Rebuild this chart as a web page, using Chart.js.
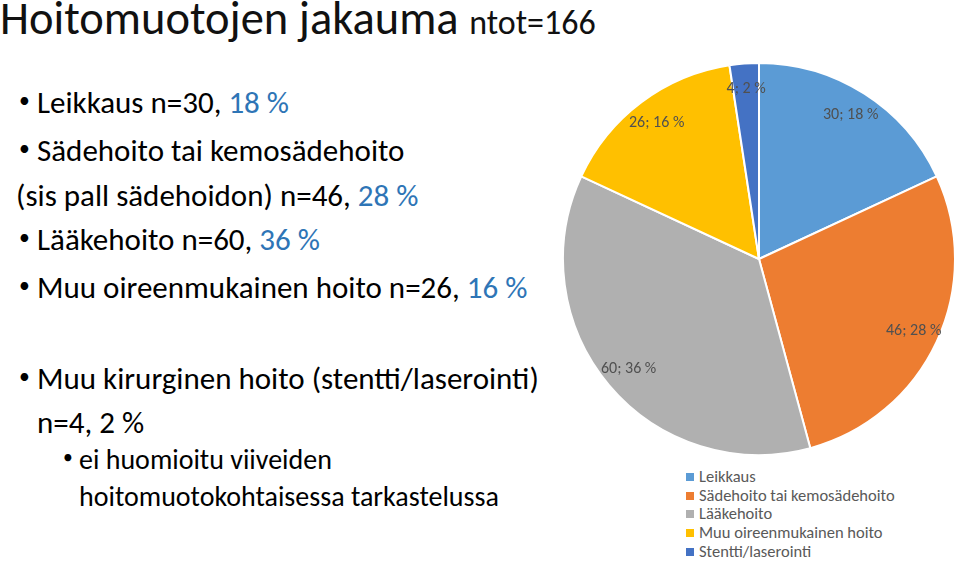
<!DOCTYPE html>
<html lang="fi">
<head>
    <meta charset="UTF-8">
    <title>Hoitomuotojen jakauma</title>
    <script src="https://cdn.jsdelivr.net/npm/chart.js"></script>
    <style>
        body {
            margin: 0;
            width: 960px;
            height: 561px;
            background: #fff;
            font-family: 'Carlito', 'Lato', sans-serif;
            position: relative;
            overflow: hidden;
        }
        .t {
            position: absolute;
            white-space: nowrap;
            color: #000;
            line-height: 1;
        }
        .blue { color: #2E75B6; }
        #title { left: 0; top: -5px; font-size: 46.5px; font-weight: 300; color: #111; }
        #title small { font-size: 34px; }
        .b { font-size: 31px; }
        .s { font-size: 28px; }
        .dot::before {
            content: '\2022';
            position: absolute;
            left: -18px;
            top: 0.12em;
            font-size: 0.7em;
        }
        .s.dot::before { left: -16px; }
        #chart-box {
            position: absolute;
            left: 562px;
            top: 62px;
            width: 394px;
            height: 394px;
        }
        #legend {
            position: absolute;
            left: 686px;
            top: 467px;
            font-size: 16.5px;
            color: #595959;
            line-height: 18.7px;
        }
        #legend span {
            display: inline-block;
            width: 8px;
            height: 8px;
            margin-right: 5px;
            vertical-align: 1px;
        }
    </style>
</head>
<body>
    <div id="title" class="t">Hoitomuotojen jakauma <small>ntot=166</small></div>

    <div class="t b dot" style="left:37px; top:87px;">Leikkaus n=30, <span class="blue">18 %</span></div>
    <div class="t b dot" style="left:37px; top:135px;">Sädehoito tai kemosädehoito</div>
    <div class="t b" style="left:16px; top:180px;">(sis pall sädehoidon) n=46, <span class="blue">28 %</span></div>
    <div class="t b dot" style="left:37px; top:224px;">Lääkehoito n=60, <span class="blue">36 %</span></div>
    <div class="t b dot" style="left:37px; top:272px;">Muu oireenmukainen hoito n=26, <span class="blue">16 %</span></div>
    <div class="t b dot" style="left:37px; top:363px;">Muu kirurginen hoito (stentti/laserointi)</div>
    <div class="t b" style="left:37px; top:407px;">n=4, 2 %</div>
    <div class="t s dot" style="left:79px; top:446px;">ei huomioitu viiveiden</div>
    <div class="t s" style="left:79px; top:483px;">hoitomuotokohtaisessa tarkastelussa</div>

    <div id="chart-box"><canvas id="pie"></canvas></div>
    <div id="legend"></div>

    <script>
        const categories = ['Leikkaus', 'Sädehoito tai kemosädehoito', 'Lääkehoito', 'Muu oireenmukainen hoito', 'Stentti/laserointi'];
        const counts = [30, 46, 60, 26, 4];
        const percents = [18, 28, 36, 16, 2];
        const colors = ['#5B9BD5', '#ED7D31', '#B0B0B0', '#FFC000', '#4472C4'];

        // data labels "n; p %" placed near the rim of each slice
        const sliceLabels = {
            id: 'sliceLabels',
            afterDatasetsDraw(chart) {
                const ctx = chart.ctx;
                const arcs = chart.getDatasetMeta(0).data;
                ctx.save();
                ctx.font = '16px Carlito, Lato, sans-serif';
                ctx.fillStyle = '#505050';
                ctx.textAlign = 'center';
                ctx.textBaseline = 'middle';
                arcs.forEach((arc, i) => {
                    const p = arc.getProps(['x', 'y', 'startAngle', 'endAngle', 'outerRadius'], true);
                    const mid = (p.startAngle + p.endAngle) / 2;
                    const r = p.outerRadius * 0.87;
                    ctx.fillText(counts[i] + '; ' + percents[i] + ' %', p.x + Math.cos(mid) * r, p.y + Math.sin(mid) * r);
                });
                ctx.restore();
            }
        };

        new Chart(document.getElementById('pie'), {
            type: 'pie',
            data: {
                labels: categories,
                datasets: [{
                    data: counts,
                    backgroundColor: colors,
                    borderColor: '#fff',
                    borderWidth: 2
                }]
            },
            options: {
                responsive: true,
                maintainAspectRatio: false,
                animation: false,
                layout: { padding: 0 },
                plugins: {
                    legend: { display: false },
                    tooltip: { enabled: false }
                }
            },
            plugins: [sliceLabels]
        });

        const legend = document.getElementById('legend');
        categories.forEach((name, i) => {
            const row = document.createElement('div');
            row.innerHTML = '<span style="background:' + colors[i] + '"></span>' + name;
            legend.appendChild(row);
        });
    </script>
</body>
</html>
